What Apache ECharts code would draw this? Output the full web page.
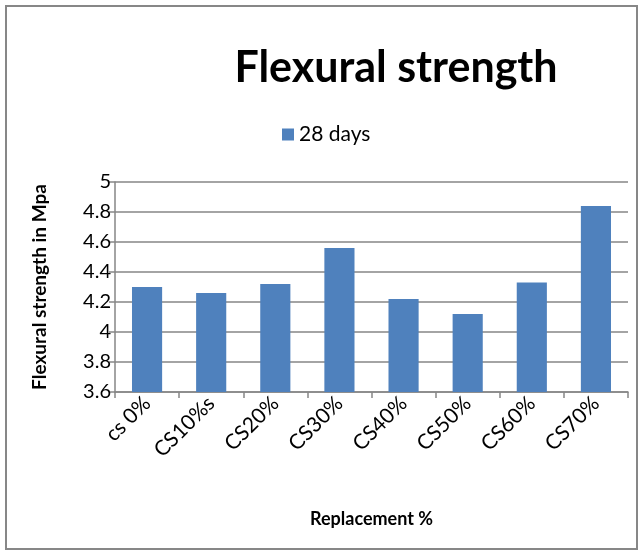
<!DOCTYPE html>
<html>
<head>
<meta charset="utf-8">
<script src="https://cdn.jsdelivr.net/npm/echarts@6/dist/echarts.min.js"></script>
<style>
    html, body { margin: 0; padding: 0; background: #fff; }
    #chart { width: 643px; height: 557px; }
</style>
</head>
<body>
<div id="chart"></div>
<script>
// data
const categories = ['cs 0%', 'CS10%s', 'CS20%', 'CS30%', 'CS40%', 'CS50%', 'CS60%', 'CS70%']
const days28 = [4.30, 4.26, 4.32, 4.56, 4.22, 4.12, 4.33, 4.84]
const seriesName = '28 days'
const yMin = 3.6
const yMax = 5
const yStep = 0.2

const font = 'Lato, "Open Sans", sans-serif'

let chart = echarts.init(document.getElementById('chart'))

chart.setOption({
    animation: false,
    textStyle: { fontFamily: font },
    title: {
        text: 'Flexural strength',
        left: 391,
        top: 42,
        textAlign: 'center',
        textStyle: { fontSize: 43, fontWeight: 'bold', color: '#000', fontFamily: font }
    },
    legend: {
        data: [seriesName],
        left: 277,
        top: 119,
        icon: 'rect',
        itemWidth: 12,
        itemHeight: 12,
        itemGap: 6,
        textStyle: { fontSize: 21, color: '#000', fontFamily: font }
    },
    grid: {
        left: 115,
        right: 15,
        top: 182,
        bottom: 165,
        containLabel: false
    },
    xAxis: {
        type: 'category',
        data: categories,
        name: 'Replacement %',
        nameLocation: 'middle',
        nameGap: 118,
        nameTextStyle: { fontSize: 18, fontWeight: 'bold', color: '#000' },
        axisLine: { lineStyle: { color: '#868686', width: 1.5 } },
        axisTick: { show: true, length: 6, lineStyle: { color: '#868686', width: 1.5 } },
        axisLabel: { rotate: 45, fontSize: 21, color: '#000', margin: 8, interval: 0 }
    },
    yAxis: {
        type: 'value',
        min: yMin,
        max: yMax,
        interval: yStep,
        name: 'Flexural strength in Mpa',
        nameLocation: 'middle',
        nameGap: 66,
        nameTextStyle: { fontSize: 19, fontWeight: 'bold', color: '#000' },
        axisLine: { show: true, lineStyle: { color: '#868686', width: 1.5 } },
        axisTick: { show: true, length: 6, lineStyle: { color: '#868686', width: 1.5 } },
        axisLabel: {
            fontSize: 20,
            color: '#000',
            margin: 4,
            formatter: v => String(Math.round(v * 10) / 10)
        },
        splitLine: { lineStyle: { color: '#868686', width: 1.5 } }
    },
    series: [
        {
            name: seriesName,
            type: 'bar',
            data: days28,
            barCategoryGap: '53%',
            itemStyle: { color: '#4F81BD' }
        }
    ],
    graphic: [
        {
            type: 'rect',
            shape: { x: 6, y: 6, width: 631, height: 543 },
            style: { fill: 'none', stroke: '#878787', lineWidth: 2 },
            z: -1
        }
    ]
})
</script>
</body>
</html>
